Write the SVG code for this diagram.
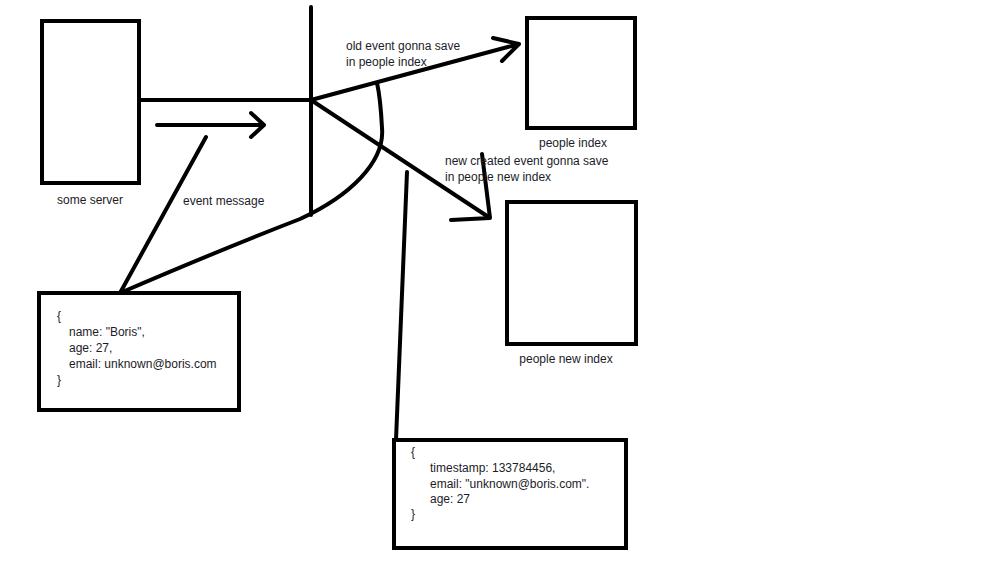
<svg xmlns="http://www.w3.org/2000/svg" width="999" height="562" viewBox="0 0 999 562">
<style>
.box{fill:#fff;stroke:#000;stroke-width:4}
.ln{fill:none;stroke:#000;stroke-width:4;stroke-linecap:round;stroke-linejoin:round}
text{font-family:"Liberation Sans",Arial,sans-serif;font-size:12px;fill:#1c1c28}
.c{text-anchor:middle}
</style>
<rect width="999" height="562" fill="#fff"/>
<g id="connectors">
<path class="ln" d="M139,100 H311"/>
<path class="ln" d="M311,7 V215"/>
<path class="ln" d="M157,125 H264 M251,113 L264,125 L251,137"/>
<path class="ln" d="M206,137 L120,293"/>
<path class="ln" d="M120,293 Q220,250 300,219 C350,196 385,162 382,128 C381,108 380,96 377,83"/>
<path class="ln" d="M311,100 L519,44 M493,38 L519,44 L502,61"/>
<path class="ln" d="M311,100 L490,218 M482,154 L490,218 L451,220"/>
<path class="ln" d="M407,172 L396,440"/>
</g>
<g id="server">
<rect class="box" x="42" y="21" width="97" height="162"/>
<text class="c" x="90" y="204">some server</text>
</g>
<g id="event-message-label">
<text x="183" y="205">event message</text>
</g>
<g id="old-label">
<text x="346" y="50">old event gonna save</text>
<text x="346" y="66">in people index</text>
</g>
<g id="new-label">
<text x="445" y="165">new created event gonna save</text>
<text x="445" y="181">in people new index</text>
</g>
<g id="people-index">
<rect class="box" x="527" y="18" width="108" height="110"/>
<text class="c" x="573" y="147">people index</text>
</g>
<g id="people-new-index">
<rect class="box" x="507" y="202" width="129" height="142"/>
<text class="c" x="566" y="363">people new index</text>
</g>
<g id="json-old">
<rect class="box" x="39" y="293" width="200" height="117"/>
<text x="57" y="320">{</text>
<text x="69" y="336">name: "Boris",</text>
<text x="69" y="352">age: 27,</text>
<text x="69" y="368">email: unknown@boris.com</text>
<text x="57" y="384">}</text>
</g>
<g id="json-new">
<rect class="box" x="394" y="440" width="232" height="108"/>
<text x="411" y="456">{</text>
<text x="430" y="472">timestamp: 133784456,</text>
<text x="430" y="488">email: "unknown@boris.com".</text>
<text x="430" y="503">age: 27</text>
<text x="411" y="518">}</text>
</g>
</svg>
